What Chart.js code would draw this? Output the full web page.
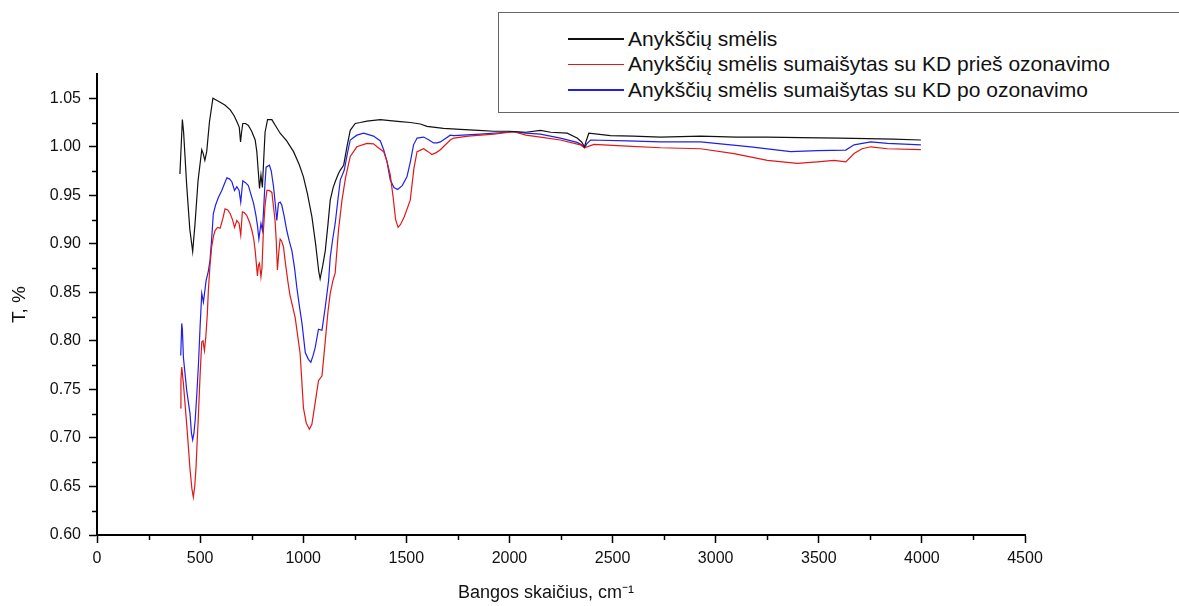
<!DOCTYPE html>
<html>
<head>
<meta charset="utf-8">
<script src="https://cdn.jsdelivr.net/npm/chart.js@4.4.0/dist/chart.umd.min.js"></script>
<style>
  body { margin: 0; background: #fff; }
  #wrap { position: relative; width: 1179px; height: 606px; overflow: hidden; }
  #legend {
    position: absolute; left: 498px; top: 12px; width: 720px; height: 101px;
    border: 1.5px solid #666; box-sizing: border-box; background: #fff;
    font-family: "Liberation Sans", Arial, sans-serif; font-size: 21px; color: #111;
    padding-top: 13px;
  }
  .row { height: 25.5px; display: flex; align-items: center; }
  .swatch { width: 56px; height: 1.5px; margin-left: 69px; margin-right: 4px; }
</style>
</head>
<body>
<div id="wrap">
  <canvas id="myChart" width="1179" height="606"></canvas>
  <div id="legend"></div>
</div>
<script>
// series names and colours
const seriesNames = [
  'Anykščių smėlis',
  'Anykščių smėlis sumaišytas su KD prieš ozonavimo',
  'Anykščių smėlis sumaišytas su KD po ozonavimo'
];
const seriesColors = ['#111111', '#e01818', '#2020e8'];

// Anykščių smėlis
const blackWn = [402, 408, 414, 420, 435, 450, 464, 475, 490, 508, 515, 523, 532, 545, 562, 580, 597, 620, 646, 665, 678, 690, 696, 701, 707, 720, 734, 750, 767, 775, 783, 788, 795, 802, 808, 815, 827, 848, 865, 888, 920, 953, 980, 1001, 1020, 1042, 1060, 1075, 1082, 1095, 1107, 1120, 1131, 1145, 1155, 1170, 1180, 1196, 1212, 1228, 1252, 1277, 1309, 1374, 1420, 1471, 1520, 1568, 1600, 1680, 1762, 1850, 1924, 2000, 2080, 2150, 2200, 2280, 2328, 2350, 2364, 2372, 2385, 2490, 2600, 2733, 2927, 3100, 3250, 3412, 3600, 3736, 3860, 3995];
const blackT = [0.972, 1.000, 1.028, 1.015, 0.960, 0.915, 0.892, 0.920, 0.965, 0.997, 0.993, 0.986, 0.995, 1.025, 1.050, 1.048, 1.046, 1.043, 1.038, 1.032, 1.026, 1.020, 1.005, 1.015, 1.024, 1.024, 1.022, 1.016, 1.007, 0.995, 0.972, 0.957, 0.971, 0.958, 0.985, 1.015, 1.028, 1.028, 1.022, 1.014, 1.006, 0.995, 0.982, 0.969, 0.952, 0.928, 0.900, 0.872, 0.864, 0.878, 0.893, 0.920, 0.945, 0.958, 0.964, 0.972, 0.976, 0.981, 1.000, 1.017, 1.024, 1.025, 1.0265, 1.028, 1.027, 1.026, 1.025, 1.0235, 1.021, 1.019, 1.018, 1.017, 1.016, 1.016, 1.015, 1.017, 1.015, 1.014, 1.009, 1.005, 1.000, 1.006, 1.014, 1.0115, 1.011, 1.010, 1.011, 1.010, 1.010, 1.0095, 1.009, 1.0085, 1.008, 1.007];

// sumaišytas su KD prieš ozonavimo
const redWn = [403, 407, 411, 419, 435, 451, 460, 467, 474, 480, 492, 500, 508, 514, 521, 528, 535, 540, 548, 556, 565, 573, 585, 597, 610, 621, 634, 646, 657, 667, 678, 689, 697, 705, 715, 727, 740, 751, 760, 767, 778, 783, 788, 795, 800, 807, 815, 824, 835, 848, 856, 863, 869, 875, 881, 888, 895, 904, 915, 925, 935, 961, 985, 1001, 1015, 1030, 1042, 1050, 1062, 1074, 1091, 1107, 1120, 1131, 1144, 1155, 1171, 1188, 1205, 1228, 1260, 1309, 1341, 1358, 1390, 1406, 1422, 1436, 1448, 1460, 1472, 1490, 1519, 1537, 1552, 1584, 1605, 1624, 1645, 1665, 1713, 1730, 1800, 1924, 2021, 2080, 2150, 2247, 2344, 2364, 2409, 2571, 2733, 2927, 3089, 3251, 3396, 3493, 3574, 3631, 3671, 3710, 3752, 3833, 3995];
const redT = [0.731, 0.760, 0.773, 0.756, 0.714, 0.668, 0.648, 0.639, 0.650, 0.669, 0.725, 0.765, 0.799, 0.800, 0.790, 0.805, 0.828, 0.852, 0.878, 0.897, 0.908, 0.914, 0.917, 0.916, 0.926, 0.936, 0.935, 0.931, 0.925, 0.917, 0.924, 0.921, 0.909, 0.933, 0.932, 0.929, 0.922, 0.914, 0.905, 0.893, 0.867, 0.878, 0.880, 0.866, 0.875, 0.914, 0.940, 0.955, 0.955, 0.953, 0.938, 0.925, 0.904, 0.873, 0.890, 0.905, 0.903, 0.897, 0.878, 0.862, 0.848, 0.824, 0.787, 0.731, 0.715, 0.709, 0.714, 0.725, 0.742, 0.759, 0.764, 0.800, 0.830, 0.849, 0.862, 0.870, 0.914, 0.945, 0.968, 0.990, 1.000, 1.0035, 1.003, 1.000, 0.995, 0.985, 0.971, 0.948, 0.925, 0.917, 0.920, 0.928, 0.945, 0.978, 0.995, 0.998, 0.995, 0.992, 0.994, 0.997, 1.007, 1.009, 1.011, 1.013, 1.0155, 1.012, 1.010, 1.007, 1.002, 0.999, 1.0025, 1.0007, 0.999, 0.998, 0.993, 0.986, 0.983, 0.9845, 0.986, 0.9845, 0.993, 0.998, 1.000, 0.998, 0.997];

// sumaišytas su KD po ozonavimo
const blueWn = [406, 411, 414, 419, 435, 451, 458, 464, 470, 476, 484, 492, 500, 508, 516, 522, 529, 540, 548, 556, 564, 575, 589, 605, 618, 630, 642, 654, 667, 678, 689, 697, 707, 720, 734, 745, 759, 770, 778, 785, 795, 802, 808, 814, 820, 836, 845, 856, 865, 872, 880, 888, 896, 908, 920, 932, 945, 958, 969, 982, 994, 1010, 1025, 1037, 1048, 1058, 1074, 1091, 1107, 1123, 1131, 1143, 1155, 1168, 1180, 1199, 1214, 1228, 1260, 1293, 1341, 1374, 1390, 1406, 1422, 1440, 1458, 1480, 1503, 1520, 1535, 1552, 1584, 1610, 1632, 1650, 1665, 1713, 1730, 1859, 2021, 2080, 2150, 2247, 2328, 2350, 2364, 2375, 2393, 2571, 2733, 2927, 3170, 3364, 3493, 3631, 3671, 3752, 3833, 3995];
const blueT = [0.785, 0.818, 0.812, 0.783, 0.749, 0.725, 0.705, 0.698, 0.705, 0.718, 0.745, 0.776, 0.815, 0.849, 0.840, 0.850, 0.862, 0.872, 0.883, 0.905, 0.931, 0.940, 0.948, 0.955, 0.962, 0.968, 0.967, 0.964, 0.955, 0.959, 0.955, 0.943, 0.965, 0.963, 0.960, 0.952, 0.942, 0.930, 0.919, 0.905, 0.921, 0.914, 0.935, 0.960, 0.979, 0.981, 0.975, 0.959, 0.940, 0.924, 0.942, 0.943, 0.940, 0.928, 0.914, 0.903, 0.893, 0.875, 0.855, 0.835, 0.818, 0.788, 0.781, 0.778, 0.785, 0.793, 0.812, 0.811, 0.835, 0.862, 0.886, 0.905, 0.921, 0.945, 0.966, 0.976, 0.993, 1.007, 1.012, 1.014, 1.011, 1.006, 0.997, 0.985, 0.966, 0.958, 0.956, 0.960, 0.969, 0.985, 1.002, 1.009, 1.010, 1.007, 1.004, 1.004, 1.005, 1.012, 1.0115, 1.013, 1.0155, 1.014, 1.013, 1.009, 1.0045, 1.002, 0.999, 1.003, 1.007, 1.006, 1.005, 1.005, 1.000, 0.995, 0.996, 0.9966, 1.002, 1.005, 1.0035, 1.002];

// axis ticks
const xTicks = [0, 500, 1000, 1500, 2000, 2500, 3000, 3500, 4000, 4500];
const yTicks = [0.60, 0.65, 0.70, 0.75, 0.80, 0.85, 0.90, 0.95, 1.00, 1.05];

const toPoints = (wn, t) => wn.map((x, i) => ({ x: x, y: t[i] }));
const seriesData = [toPoints(blackWn, blackT), toPoints(redWn, redT), toPoints(blueWn, blueT)];

// minor ticks half way between the major ones
const minorTicks = {
  id: 'minorTicks',
  afterDraw(chart) {
    const ctx = chart.ctx;
    const xs = chart.scales.x, ys = chart.scales.y;
    ctx.save();
    ctx.strokeStyle = '#000';
    ctx.lineWidth = 1.5;
    ctx.beginPath();
    for (let i = 0; i < xTicks.length - 1; i++) {
      const px = Math.round(xs.getPixelForValue((xTicks[i] + xTicks[i + 1]) / 2)) + 0.5;
      ctx.moveTo(px, xs.top);
      ctx.lineTo(px, xs.top + 5);
    }
    for (let i = 0; i < yTicks.length - 1; i++) {
      const py = Math.round(ys.getPixelForValue((yTicks[i] + yTicks[i + 1]) / 2)) + 0.5;
      ctx.moveTo(ys.right, py);
      ctx.lineTo(ys.right - 5, py);
    }
    ctx.stroke();
    ctx.restore();
  }
};

const ctx = document.getElementById('myChart').getContext('2d');
const myChart = new Chart(ctx, {
  type: 'line',
  data: {
    datasets: seriesData.map((pts, i) => ({
      label: seriesNames[i],
      data: pts,
      borderColor: seriesColors[i],
      borderWidth: 1.2,
      pointRadius: 0,
      tension: 0,
      fill: false
    }))
  },
  options: {
    responsive: false,
    animation: false,
    layout: { padding: { top: 74, right: 154, left: 0, bottom: 0 } },
    plugins: { legend: { display: false }, tooltip: { enabled: false } },
    scales: {
      x: {
        type: 'linear',
        min: 0,
        max: 4500,
        afterFit: s => { s.height = 71; },
        afterBuildTicks: s => { s.ticks = xTicks.map(v => ({ value: v })); },
        grid: { drawOnChartArea: false, tickLength: 8, tickColor: '#000', tickWidth: 1.5 },
        border: { color: '#000', width: 2 },
        ticks: { color: '#111', font: { family: 'Liberation Sans', size: 16 }, padding: 6, maxRotation: 0,
                 callback: v => String(v) },
        title: { display: true, text: 'Bangos skaičius, cm⁻¹      ', color: '#111',
                 font: { family: 'Liberation Sans', size: 18 }, padding: { top: 0, bottom: 2 } }
      },
      y: {
        min: 0.6,
        max: 1.075,
        afterFit: s => { s.width = 97; },
        afterBuildTicks: s => { s.ticks = yTicks.map(v => ({ value: v })); },
        grid: { drawOnChartArea: false, tickLength: 8, tickColor: '#000', tickWidth: 1.5 },
        border: { color: '#000', width: 2 },
        ticks: { color: '#111', font: { family: 'Liberation Sans', size: 16 }, padding: 8,
                 callback: v => v.toFixed(2) },
        title: { display: true, text: 'T, %', color: '#111',
                 font: { family: 'Liberation Sans', size: 19 }, padding: { top: 8, bottom: 0 } }
      }
    }
  },
  plugins: [minorTicks]
});

// legend box in the upper right
const legend = document.getElementById('legend');
seriesNames.forEach((name, i) => {
  const row = document.createElement('div');
  row.className = 'row';
  row.innerHTML = `<span class="swatch" style="background:${seriesColors[i]}"></span><span>${name}</span>`;
  legend.appendChild(row);
});
</script>
</body>
</html>
